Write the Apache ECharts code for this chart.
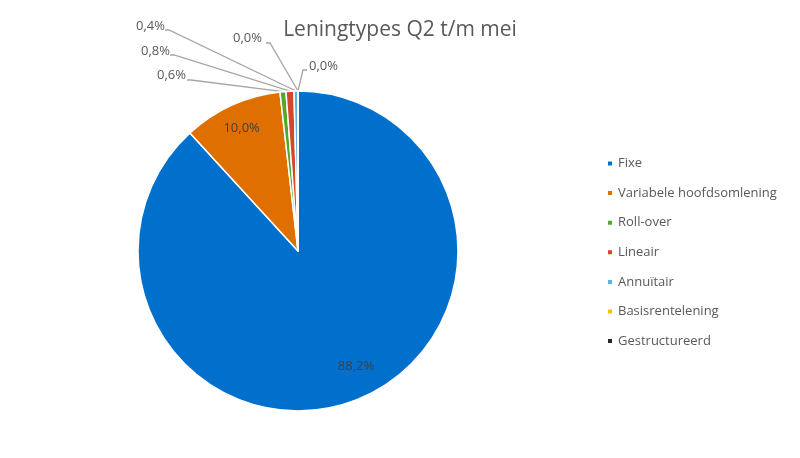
<!DOCTYPE html>
<html><head><meta charset="utf-8">
<script src="https://cdn.jsdelivr.net/npm/echarts@6/dist/echarts.min.js"></script>
<style>html,body{margin:0;padding:0;background:#fff}#c{width:800px;height:458px}</style>
</head><body><div id="c"></div>
<script>
const categories = ['Fixe','Variabele hoofdsomlening','Roll-over','Lineair','Annuïtair','Basisrentelening','Gestructureerd'];
const values = [88.2, 10.0, 0.6, 0.8, 0.4, 0.0, 0.0];
const colors = ['#0070CC','#DF7000','#52A82A','#D4472B','#5BB3E6','#FFC000','#262626'];
// outside label placement (style only): [labelX, labelY, align, elbowX, elbowY]
const outsideLabels = {
  2: [186, 75, 'right', 191, 80],
  3: [170, 51, 'right', 174, 55],
  4: [165, 26, 'right', 169, 30],
  5: [262, 38, 'right', 270, 43],
  6: [309, 66, 'left', 303, 70]
};
const fmt = v => v.toFixed(1).replace('.', ',') + '%';
const chart = echarts.init(document.getElementById('c'));
chart.setOption({
  animation:false,
  title:{text:'Leningtypes Q2 t/m mei', left:395, top:15, textAlign:'center',
    textStyle:{fontFamily:'Open Sans', fontSize:21, fontWeight:'normal', color:'#595959'}},
  legend:{orient:'vertical', left:601, top:152, itemWidth:6, itemHeight:6, itemGap:16.6, icon:'rect',
    textStyle:{fontFamily:'Open Sans', fontSize:13, color:'#595959'}, data:categories},
  color:colors,
  series:[{
    type:'pie', center:[298,251], radius:160, startAngle:90, clockwise:true,
    itemStyle:{borderColor:'#fff', borderWidth:1.5},
    label:{show:true, position:'inside', formatter:p=>fmt(p.value),
      fontFamily:'Open Sans', fontSize:13, color:'#404040'},
    labelLine:{show:false},
    data:categories.map((c,i)=>{
      const d={name:c, value:values[i]};
      if(outsideLabels[i]){
        d.label={position:'outside', color:'#595959'};
        d.labelLine={show:true, length:5, length2:5, lineStyle:{color:'#A6A6A6', width:1.3}};
      } else if(i===0){
        d.label={position:'inside', offset:[28,38]};
      } else {
        d.label={position:'inside', offset:[-22,-47]};
      }
      return d;
    }),
    labelLayout:function(params){
      const o=outsideLabels[params.dataIndex];
      if(!o) return {};
      const start = params.labelLinePoints ? params.labelLinePoints[0] : [297,91];
      const labelStart = o[2]==='right' ? [o[3]-4, o[4]] : [o[3]+4, o[4]];
      return {x:o[0], y:o[1], align:o[2], verticalAlign:'middle',
        labelLinePoints:[start, [o[3], o[4]], labelStart]};
    }
  }]
});
</script></body></html>
